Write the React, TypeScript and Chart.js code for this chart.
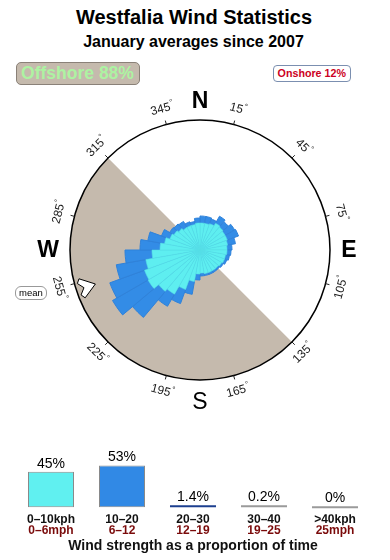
import React, { useEffect, useRef } from 'react';
import { Chart, registerables } from 'chart.js';

Chart.register(...registerables);

const FONT = '"Liberation Sans", Arial, Helvetica, sans-serif';
Chart.defaults.font.family = FONT;

// ---- Wind rose data (36 direction bins of 10°, starting at North, clockwise) ----
const directionBins = [0, 10, 20, 30, 40, 50, 60, 70, 80, 90, 100, 110, 120, 130, 140, 150, 160, 170,
  180, 190, 200, 210, 220, 230, 240, 250, 260, 270, 280, 290, 300, 310, 320, 330, 340, 350];
// radial length of the 0–10 kph part of each bin
const lightWind = [2.7, 2.7, 2.8, 3.1, 3.0, 2.9, 2.9, 2.8, 2.7, 2.7, 2.6, 2.6, 2.5, 2.4, 2.4, 2.4, 2.4, 2.3,
  2.4, 3.2, 4.2, 5.1, 5.4, 6.0, 5.9, 5.5, 4.8, 4.0, 3.6, 3.2, 3.0, 2.8, 2.6, 2.6, 2.6, 2.7];
// additional radial length of the 10–20 kph part of each bin
const moderateWind = [0.7, 0.7, 0.5, 0.8, 0.7, 1.1, 1.2, 0.8, 0.5, 0.4, 0.4, 0.25, 0.2, 0.2, 0.2, 0.2, 0.2, 0.3,
  0.6, 1.3, 1.5, 1.4, 3.4, 4.1, 3.7, 3.0, 2.7, 2.0, 1.7, 0.9, 0.5, 0.6, 0.7, 0.4, 0.3, 0.5];
const roseMax = 13;
const offshoreFrom = 135;
const offshoreTo = 315;
const meanDirection = 252;
const degreeTicks = [15, 45, 75, 105, 135, 165, 195, 225, 255, 285, 315, 345];
const cardinalLabels = ['N', 'E', 'S', 'W'];
const cardinalAngles = [0, 90, 180, 270];

// ---- Wind strength distribution ----
const strengthKph = ['0–10kph', '10–20', '20–30', '30–40', '>40kph'];
const strengthMph = ['0–6mph', '6–12', '12–19', '19–25', '25mph'];
const strengthShare = [45, 53, 1.4, 0.2, 0];

const BEIGE = '#c5baad';
const CYAN = '#5eeef0';
const BLUE = '#338ce6';

const rad = (compassDeg: number) => ((compassDeg - 90) * Math.PI) / 180;

const compassPlugin = {
  id: 'compass',
  beforeDatasetsDraw(chart: any) {
    const s = chart.scales.r;
    const ctx = chart.ctx;
    const cx = s.xCenter, cy = s.yCenter, R = s.drawingArea;
    ctx.save();
    ctx.beginPath();
    ctx.moveTo(cx, cy);
    ctx.arc(cx, cy, R, rad(offshoreFrom), rad(offshoreTo), false);
    ctx.closePath();
    ctx.fillStyle = BEIGE;
    ctx.fill();
    ctx.restore();
  },
  afterDatasetsDraw(chart: any) {
    const s = chart.scales.r;
    const ctx = chart.ctx;
    const cx = s.xCenter, cy = s.yCenter, R = s.drawingArea;
    const pos = (deg: number, r: number) => [cx + r * Math.sin((deg * Math.PI) / 180), cy - r * Math.cos((deg * Math.PI) / 180)];
    ctx.save();
    // outer circle
    ctx.beginPath();
    ctx.arc(cx, cy, R, 0, Math.PI * 2);
    ctx.strokeStyle = '#000';
    ctx.lineWidth = 1.5;
    ctx.stroke();
    // ticks & degree labels
    ctx.lineWidth = 1;
    degreeTicks.forEach((d) => {
      const [x1, y1] = pos(d, R);
      const [x2, y2] = pos(d, R + 4);
      ctx.beginPath();
      ctx.moveTo(x1, y1);
      ctx.lineTo(x2, y2);
      ctx.strokeStyle = '#222';
      ctx.stroke();
      const [lx, ly] = pos(d, R + 16);
      const rot = d > 90 && d < 270 ? d - 180 : d > 180 ? d - 360 : d;
      ctx.save();
      ctx.translate(lx, ly);
      ctx.rotate((rot * Math.PI) / 180);
      const num = String(d);
      ctx.font = `12px ${FONT}`;
      const wn = ctx.measureText(num).width;
      ctx.font = `8px ${FONT}`;
      const wd = ctx.measureText('°').width;
      const x0 = -(wn + wd) / 2;
      ctx.fillStyle = '#1a1a1a';
      ctx.textBaseline = 'middle';
      ctx.textAlign = 'left';
      ctx.font = `12px ${FONT}`;
      ctx.fillText(num, x0, 0);
      ctx.font = `8px ${FONT}`;
      ctx.fillText('°', x0 + wn + 0.5, -4);
      ctx.restore();
    });
    // cardinal letters
    cardinalLabels.forEach((t, i) => {
      const a = cardinalAngles[i];
      const r = a === 0 || a === 90 ? R + 19 : R + 22;
      const [x, y] = pos(a, r);
      ctx.font = `${t === 'S' ? 'normal' : 'bold'} 23px ${FONT}`;
      ctx.fillStyle = '#000';
      ctx.textAlign = 'center';
      ctx.textBaseline = 'middle';
      ctx.fillText(t, x, y + 1);
    });
    // mean direction arrow
    const ux = -Math.sin((meanDirection * Math.PI) / 180), uy = Math.cos((meanDirection * Math.PI) / 180);
    const vx = -uy, vy = ux;
    const pt = (along: number, side: number) => [cx - ux * along + vx * side, cy - uy * along + vy * side];
    const shape = [pt(R - 20, 0), pt(R - 6, 10), pt(R - 3, 6), pt(R - 8, 0), pt(R - 3, -6), pt(R - 6, -10)];
    ctx.beginPath();
    shape.forEach(([x, y], i) => (i ? ctx.lineTo(x, y) : ctx.moveTo(x, y)));
    ctx.closePath();
    ctx.fillStyle = '#fff';
    ctx.fill();
    ctx.strokeStyle = '#000';
    ctx.lineWidth = 1;
    ctx.stroke();
    ctx.restore();
  },
};

const valueLabelPlugin = {
  id: 'valueLabels',
  afterDatasetsDraw(chart: any) {
    const ctx = chart.ctx;
    const meta = chart.getDatasetMeta(0);
    ctx.save();
    ctx.font = `14px ${FONT}`;
    ctx.fillStyle = '#000';
    ctx.textAlign = 'center';
    ctx.textBaseline = 'alphabetic';
    meta.data.forEach((bar: any, i: number) => {
      ctx.fillText(`${strengthShare[i]}%`, bar.x, Math.min(bar.y, bar.base) - 4);
    });
    ctx.restore();
  },
};

export default function App() {
  const roseRef = useRef<HTMLCanvasElement>(null);
  const barRef = useRef<HTMLCanvasElement>(null);

  useEffect(() => {
    const totals = lightWind.map((v, i) => +(v + moderateWind[i]).toFixed(2));
    const rose = new Chart(roseRef.current as HTMLCanvasElement, {
      type: 'polarArea',
      data: {
        labels: directionBins.map((d) => `${d}°`),
        datasets: [
          { label: '0–10 kph', data: lightWind, backgroundColor: CYAN, borderColor: '#55dde6', borderWidth: 0.6 } as any,
          { label: '10–20 kph', data: totals, backgroundColor: BLUE, borderColor: '#2f82da', borderWidth: 1 } as any,
        ],
      },
      options: {
        responsive: false,
        animation: false,
        events: [],
        layout: { padding: { left: 70, right: 60, top: 35, bottom: 40 } },
        plugins: { legend: { display: false }, tooltip: { enabled: false } },
        scales: {
          r: {
            min: 0,
            max: roseMax,
            startAngle: 0,
            ticks: { display: false },
            grid: { display: false },
            angleLines: { display: false },
            pointLabels: { display: false },
          },
        },
      } as any,
      plugins: [compassPlugin],
    });

    const bars = new Chart(barRef.current as HTMLCanvasElement, {
      type: 'bar',
      data: {
        labels: strengthKph,
        datasets: [
          {
            data: strengthShare,
            backgroundColor: ['#60f0f0', '#3189e5', '#1c3f8f', '#9a9a9a', '#9a9a9a'],
            borderColor: '#8a8a8a',
            borderWidth: [1, 1, 0, 0, 0],
            borderSkipped: false,
            minBarLength: 2,
            barPercentage: 0.648,
            categoryPercentage: 1,
          } as any,
        ],
      },
      options: {
        responsive: false,
        animation: false,
        events: [],
        layout: { padding: { left: 15.5, right: 19.5, top: 5, bottom: 5 } },
        plugins: { legend: { display: false }, tooltip: { enabled: false } },
        scales: {
          x: {
            type: 'category',
            labels: strengthKph,
            weight: 0,
            grid: { display: false, drawTicks: false },
            border: { display: false },
            ticks: { color: '#111', padding: 0, autoSkip: false, maxRotation: 0, font: { size: 12, weight: 'bold', lineHeight: '11px' } },
          },
          x2: {
            type: 'category',
            labels: strengthMph,
            position: 'bottom',
            offset: true,
            weight: 1,
            grid: { display: false, drawTicks: false },
            border: { display: false },
            ticks: { color: '#7a0a0a', padding: 0, autoSkip: false, maxRotation: 0, font: { size: 12, weight: 'bold', lineHeight: '11px' } },
            title: {
              display: true,
              text: 'Wind strength as a proportion of time',
              color: '#111',
              font: { size: 14, weight: 'bold' },
              padding: { top: 2, bottom: 0 },
            },
          },
          y: { display: false, min: -8.8, max: 78.9 },
        },
      } as any,
      plugins: [valueLabelPlugin],
    });

    return () => {
      rose.destroy();
      bars.destroy();
    };
  }, []);

  const abs = (s: React.CSSProperties): React.CSSProperties => ({ position: 'absolute', ...s });

  return (
    <div style={{ position: 'fixed', left: 0, top: 0, width: 390, height: 560, background: '#fff', fontFamily: FONT, overflow: 'hidden' }}>
      <div style={abs({ left: 0, top: 6, width: 388, textAlign: 'center', fontSize: 20, lineHeight: '22px', fontWeight: 'bold', color: '#000' })}>
        Westfalia Wind Statistics
      </div>
      <div style={abs({ left: 0, top: 33, width: 387, textAlign: 'center', fontSize: 16, lineHeight: '18px', fontWeight: 'bold', color: '#000' })}>
        January averages since 2007
      </div>
      <div
        style={abs({
          left: 15.5, top: 61.5, width: 122, height: 21, background: BEIGE, border: '1px solid #8a8178', borderRadius: 5,
          color: '#adf3a2', fontWeight: 'bold', fontSize: 17.5, lineHeight: '21px', textAlign: 'center',
        })}
      >
        Offshore 88%
      </div>
      <div
        style={abs({
          left: 272.5, top: 64.5, width: 76.5, height: 15.5, background: '#fff', border: '1px solid #7b8fb0', borderRadius: 4,
          color: '#cc0022', fontWeight: 'bold', fontSize: 10.7, lineHeight: '15.5px', textAlign: 'center',
        })}
      >
        Onshore 12%
      </div>
      <canvas ref={roseRef} width={390} height={335} style={abs({ left: 0, top: 85, width: 390, height: 335 })} />
      <div
        style={abs({
          left: 15, top: 286, width: 30, height: 12, border: '1px solid #999', borderRadius: 6, background: '#fff',
          fontSize: 9.5, lineHeight: '12px', textAlign: 'center', color: '#000',
        })}
      >
        mean
      </div>
      <canvas ref={barRef} width={390} height={120} style={abs({ left: 0, top: 440, width: 390, height: 120 })} />
    </div>
  );
}
